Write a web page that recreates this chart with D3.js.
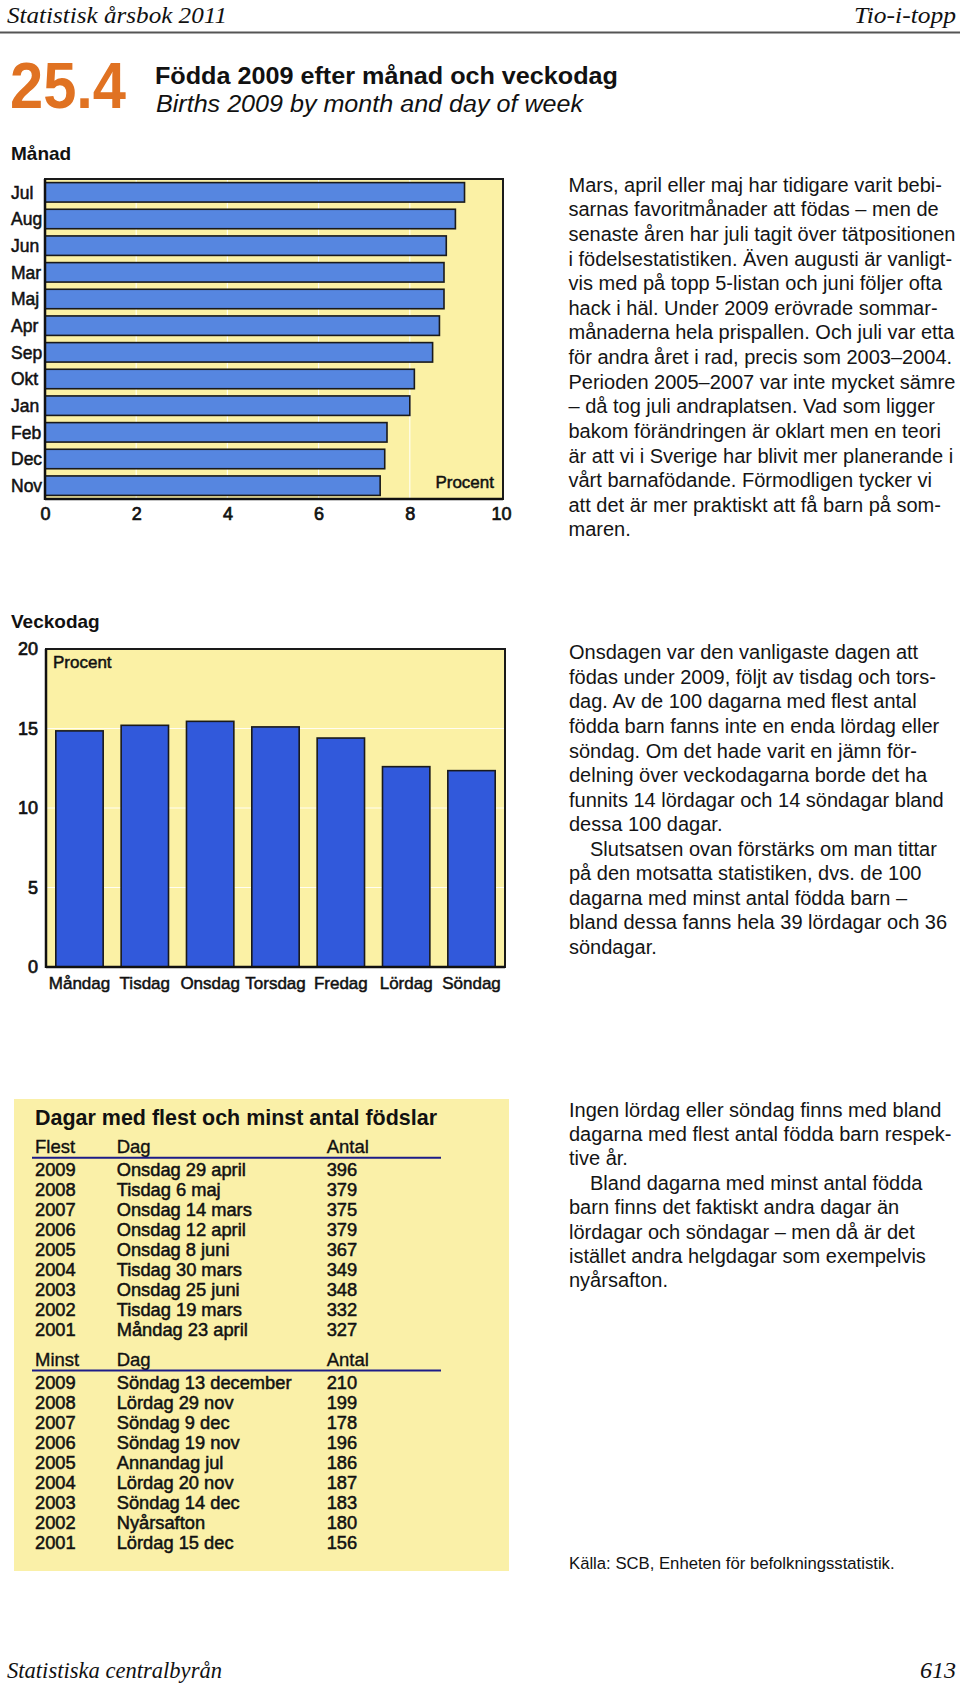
<!DOCTYPE html>
<html><head><meta charset="utf-8">
<script src="https://cdn.jsdelivr.net/npm/d3@7"></script>
<style>
html,body{margin:0;padding:0;background:#fff;}
svg{display:block;}
text{font-family:"Liberation Sans",Arial,Helvetica,sans-serif;fill:#111;}
.serif{font-family:"Liberation Serif","Times New Roman",serif;font-style:italic;}
.heavy{stroke:#111;stroke-width:0.5px;paint-order:stroke;}
</style></head>
<body>
<script>
// ---------- data ----------
const months = ["Jul","Aug","Jun","Mar","Maj","Apr","Sep","Okt","Jan","Feb","Dec","Nov"];
const monthValues = [9.2, 9.0, 8.8, 8.75, 8.75, 8.65, 8.5, 8.1, 8.0, 7.5, 7.45, 7.35];
const monthTicks = [0, 2, 4, 6, 8, 10];

const days = ["Måndag","Tisdag","Onsdag","Torsdag","Fredag","Lördag","Söndag"];
const dayValues = [14.85, 15.2, 15.45, 15.1, 14.4, 12.6, 12.35];
const dayTicks = [0, 5, 10, 15, 20];

const flestYears = ["2009","2008","2007","2006","2005","2004","2003","2002","2001"];
const flestDays = ["Onsdag 29 april","Tisdag 6 maj","Onsdag 14 mars","Onsdag 12 april","Onsdag 8 juni","Tisdag 30 mars","Onsdag 25 juni","Tisdag 19 mars","Måndag 23 april"];
const flestCounts = [396, 379, 375, 379, 367, 349, 348, 332, 327];

const minstYears = ["2009","2008","2007","2006","2005","2004","2003","2002","2001"];
const minstDays = ["Söndag 13 december","Lördag 29 nov","Söndag 9 dec","Söndag 19 nov","Annandag jul","Lördag 20 nov","Söndag 14 dec","Nyårsafton","Lördag 15 dec"];
const minstCounts = [210, 199, 178, 196, 186, 187, 183, 180, 156];

const para1 = [
"Mars, april eller maj har tidigare varit bebi-",
"sarnas favoritmånader att födas – men de",
"senaste åren har juli tagit över tätpositionen",
"i födelsestatistiken. Även augusti är vanligt-",
"vis med på topp 5-listan och juni följer ofta",
"hack i häl. Under 2009 erövrade sommar-",
"månaderna hela prispallen. Och juli var etta",
"för andra året i rad, precis som 2003–2004.",
"Perioden 2005–2007 var inte mycket sämre",
"– då tog juli andraplatsen. Vad som ligger",
"bakom förändringen är oklart men en teori",
"är att vi i Sverige har blivit mer planerande i",
"vårt barnafödande. Förmodligen tycker vi",
"att det är mer praktiskt att få barn på som-",
"maren."];
const para2 = [
"Onsdagen var den vanligaste dagen att",
"födas under 2009, följt av tisdag och tors-",
"dag. Av de 100 dagarna med flest antal",
"födda barn fanns inte en enda lördag eller",
"söndag. Om det hade varit en jämn för-",
"delning över veckodagarna borde det ha",
"funnits 14 lördagar och 14 söndagar bland",
"dessa 100 dagar.",
"\tSlutsatsen ovan förstärks om man tittar",
"på den motsatta statistiken, dvs. de 100",
"dagarna med minst antal födda barn –",
"bland dessa fanns hela 39 lördagar och 36",
"söndagar."];
const para3 = [
"Ingen lördag eller söndag finns med bland",
"dagarna med flest antal födda barn respek-",
"tive år.",
"\tBland dagarna med minst antal födda",
"barn finns det faktiskt andra dagar än",
"lördagar och söndagar – men då är det",
"istället andra helgdagar som exempelvis",
"nyårsafton."];

// ---------- page ----------
const W = 960, H = 1687;
const YELLOW = "#FBF1A5", TABLEBG = "#FAF0A8";
const svg = d3.select("body").append("svg").attr("width", W).attr("height", H);
svg.append("rect").attr("width", W).attr("height", H).attr("fill", "#fff");

// header
svg.append("text").attr("class","serif").attr("x",7).attr("y",23).attr("font-size",24)
  .attr("textLength",220).attr("lengthAdjust","spacingAndGlyphs").text("Statistisk årsbok 2011");
svg.append("text").attr("class","serif").attr("x",854).attr("y",23).attr("font-size",24)
  .attr("textLength",102).attr("lengthAdjust","spacingAndGlyphs").text("Tio-i-topp");
svg.append("line").attr("x1",0).attr("x2",W).attr("y1",32.5).attr("y2",32.5)
  .attr("stroke","#555").attr("stroke-width",2);

// title block
svg.append("text").attr("x",10).attr("y",107.5).attr("font-size",64).attr("font-weight","bold")
  .style("fill","#E07222").attr("textLength",116).attr("lengthAdjust","spacingAndGlyphs").text("25.4");
svg.append("text").attr("x",155).attr("y",84).attr("font-size",23.5).attr("font-weight","bold")
  .attr("textLength",463).attr("lengthAdjust","spacingAndGlyphs").text("Födda 2009 efter månad och veckodag");
svg.append("text").attr("x",156).attr("y",112).attr("font-size",23).attr("font-style","italic")
  .attr("textLength",427).attr("lengthAdjust","spacingAndGlyphs").text("Births 2009 by month and day of week");

// ---------- month chart ----------
svg.append("text").attr("x",11).attr("y",160).attr("font-size",19).attr("font-weight","bold").text("Månad");
const mLeft = 45, mRight = 503, mTop = 179, mBottom = 499;
const mx = d3.scaleLinear().domain([0,10]).range([mLeft, 501]);
const my = d3.scaleBand().domain(months).range([mTop, mBottom]).paddingInner(0.27).paddingOuter(0.135);
const gm = svg.append("g");
gm.append("rect").attr("x",mLeft).attr("y",mTop).attr("width",mRight-mLeft).attr("height",mBottom-mTop)
  .attr("fill",YELLOW).attr("stroke","#1a1a1a").attr("stroke-width",2);
gm.selectAll("line.grid").data(monthTicks.filter(t=>t>0&&t<10)).join("line").attr("class","grid")
  .attr("x1",d=>mx(d)).attr("x2",d=>mx(d)).attr("y1",mTop+1).attr("y2",mBottom-1)
  .attr("stroke","#fff").attr("stroke-opacity",0.85).attr("stroke-width",1.2);
gm.selectAll("rect.bar").data(months).join("rect").attr("class","bar")
  .attr("x",mx(0)).attr("y",d=>my(d))
  .attr("width",(d,i)=>mx(monthValues[i])-mx(0)).attr("height",my.bandwidth())
  .attr("fill","#5686E0").attr("stroke","#1a1a1a").attr("stroke-width",1.6);
gm.append("line").attr("x1",mLeft).attr("x2",mLeft).attr("y1",mTop).attr("y2",mBottom+1)
  .attr("stroke","#111").attr("stroke-width",2.5);
gm.append("line").attr("x1",mLeft).attr("x2",mRight).attr("y1",mBottom).attr("y2",mBottom)
  .attr("stroke","#111").attr("stroke-width",2.5);
const mAxis = gm.append("g").attr("transform",`translate(0,${mBottom})`)
  .call(d3.axisBottom(mx).tickValues(monthTicks).tickSize(0).tickPadding(8.5).tickFormat(d3.format("d")));
mAxis.select(".domain").remove();
mAxis.attr("font-family",null);
mAxis.selectAll("text").attr("font-size",18).attr("class","heavy").style("stroke-width","0.7px").attr("fill","#111");
gm.selectAll("text.mlab").data(months).join("text").attr("class","mlab heavy")
  .attr("x",11).attr("y",d=>my(d)+my.bandwidth()/2).attr("dy","0.36em").attr("font-size",17.5).text(d=>d);
gm.append("text").attr("class","heavy").attr("x",494).attr("y",488).attr("text-anchor","end")
  .attr("font-size",17).text("Procent");

// ---------- weekday chart ----------
svg.append("text").attr("x",11).attr("y",628).attr("font-size",19).attr("font-weight","bold").text("Veckodag");
const dLeft = 46, dRight = 505, dTop = 649, dBottom = 967;
const dxs = d3.scaleBand().domain(days).range([dLeft, dRight]).paddingInner(0.275).paddingOuter(0.15);
const dys = d3.scaleLinear().domain([0,20]).range([dBottom, dTop]);
const gd = svg.append("g");
gd.append("rect").attr("x",dLeft).attr("y",dTop).attr("width",dRight-dLeft).attr("height",dBottom-dTop)
  .attr("fill",YELLOW).attr("stroke","#1a1a1a").attr("stroke-width",2);
gd.selectAll("line.grid").data(dayTicks.filter(t=>t>0&&t<20)).join("line").attr("class","grid")
  .attr("x1",dLeft+1).attr("x2",dRight-1).attr("y1",d=>dys(d)).attr("y2",d=>dys(d))
  .attr("stroke","#fff").attr("stroke-opacity",0.85).attr("stroke-width",1.2);
gd.selectAll("rect.bar").data(days).join("rect").attr("class","bar")
  .attr("x",d=>dxs(d)).attr("y",(d,i)=>dys(dayValues[i]))
  .attr("width",dxs.bandwidth()).attr("height",(d,i)=>dys(0)-dys(dayValues[i]))
  .attr("fill","#3159DB").attr("stroke","#1a1a1a").attr("stroke-width",1.6);
gd.append("line").attr("x1",dLeft).attr("x2",dLeft).attr("y1",dTop).attr("y2",dBottom+1)
  .attr("stroke","#111").attr("stroke-width",2.5);
gd.append("line").attr("x1",dLeft).attr("x2",dRight).attr("y1",dBottom).attr("y2",dBottom)
  .attr("stroke","#111").attr("stroke-width",2.5);
const yAx = gd.append("g").attr("transform",`translate(${dLeft},0)`)
  .call(d3.axisLeft(dys).tickValues(dayTicks).tickSize(0).tickPadding(8).tickFormat(d3.format("d")));
yAx.select(".domain").remove();
yAx.attr("font-family",null);
yAx.selectAll("text").attr("font-size",18).attr("class","heavy").style("stroke-width","0.7px").attr("fill","#111");
const xAx = gd.append("g").attr("transform",`translate(0,${dBottom})`)
  .call(d3.axisBottom(dxs).tickSize(0).tickPadding(9.5));
xAx.select(".domain").remove();
xAx.attr("font-family",null);
xAx.selectAll("text").attr("font-size",17).attr("class","heavy").attr("fill","#111");
gd.append("text").attr("class","heavy").attr("x",53).attr("y",668).attr("font-size",17).text("Procent");

// ---------- table ----------
const gt = svg.append("g");
gt.append("rect").attr("x",14).attr("y",1099).attr("width",495).attr("height",472).attr("fill",TABLEBG);
gt.append("text").attr("x",35).attr("y",1124.5).attr("font-size",21.5).attr("font-weight","bold")
  .attr("textLength",402).attr("lengthAdjust","spacingAndGlyphs").text("Dagar med flest och minst antal födslar");
const colX = [35, 116.7, 326.7];
function section(headY, lab, years, dayNames, counts){
  const hdr = [lab, "Dag", "Antal"];
  gt.selectAll(null).data(hdr).join("text").attr("class","heavy").attr("x",(d,i)=>colX[i]).attr("y",headY)
    .attr("font-size",18.5).style("stroke-width","0.35px").text(d=>d);
  gt.append("line").attr("x1",32).attr("x2",441).attr("y1",headY+4.5).attr("y2",headY+4.5)
    .attr("stroke","#1c1c88").attr("stroke-width",2);
  const rows = years.map((y,i)=>[y, dayNames[i], String(counts[i])]);
  rows.forEach((r,ri)=>{
    gt.selectAll(null).data(r).join("text").attr("class","heavy").attr("x",(d,i)=>colX[i])
      .attr("y",headY+22.7+ri*20).attr("font-size",18.3).style("stroke-width","0.5px").text(d=>d);
  });
}
section(1153.3, "Flest", flestYears, flestDays, flestCounts);
section(1366, "Minst", minstYears, minstDays, minstCounts);

// ---------- body text ----------
function para(lines, x, y0, step){
  svg.selectAll(null).data(lines).join("text")
    .attr("x",d=>d.startsWith("\t") ? x+21 : x)
    .attr("y",(d,i)=>y0+i*step).attr("font-size",20).style("fill","#141414")
    .text(d=>d.replace("\t",""));
}
para(para1, 568.5, 191.7, 24.62);
para(para2, 569, 659.3, 24.55);
para(para3, 569, 1116.7, 24.37);
svg.append("text").attr("x",569).attr("y",1568.5).attr("font-size",16.7).text("Källa: SCB, Enheten för befolkningsstatistik.");

// footer
svg.append("text").attr("class","serif").attr("x",7).attr("y",1678).attr("font-size",24)
  .attr("textLength",215).attr("lengthAdjust","spacingAndGlyphs").text("Statistiska centralbyrån");
svg.append("text").attr("class","serif").attr("x",956).attr("y",1678).attr("font-size",24)
  .attr("text-anchor","end").text("613");
</script>
</body></html>
